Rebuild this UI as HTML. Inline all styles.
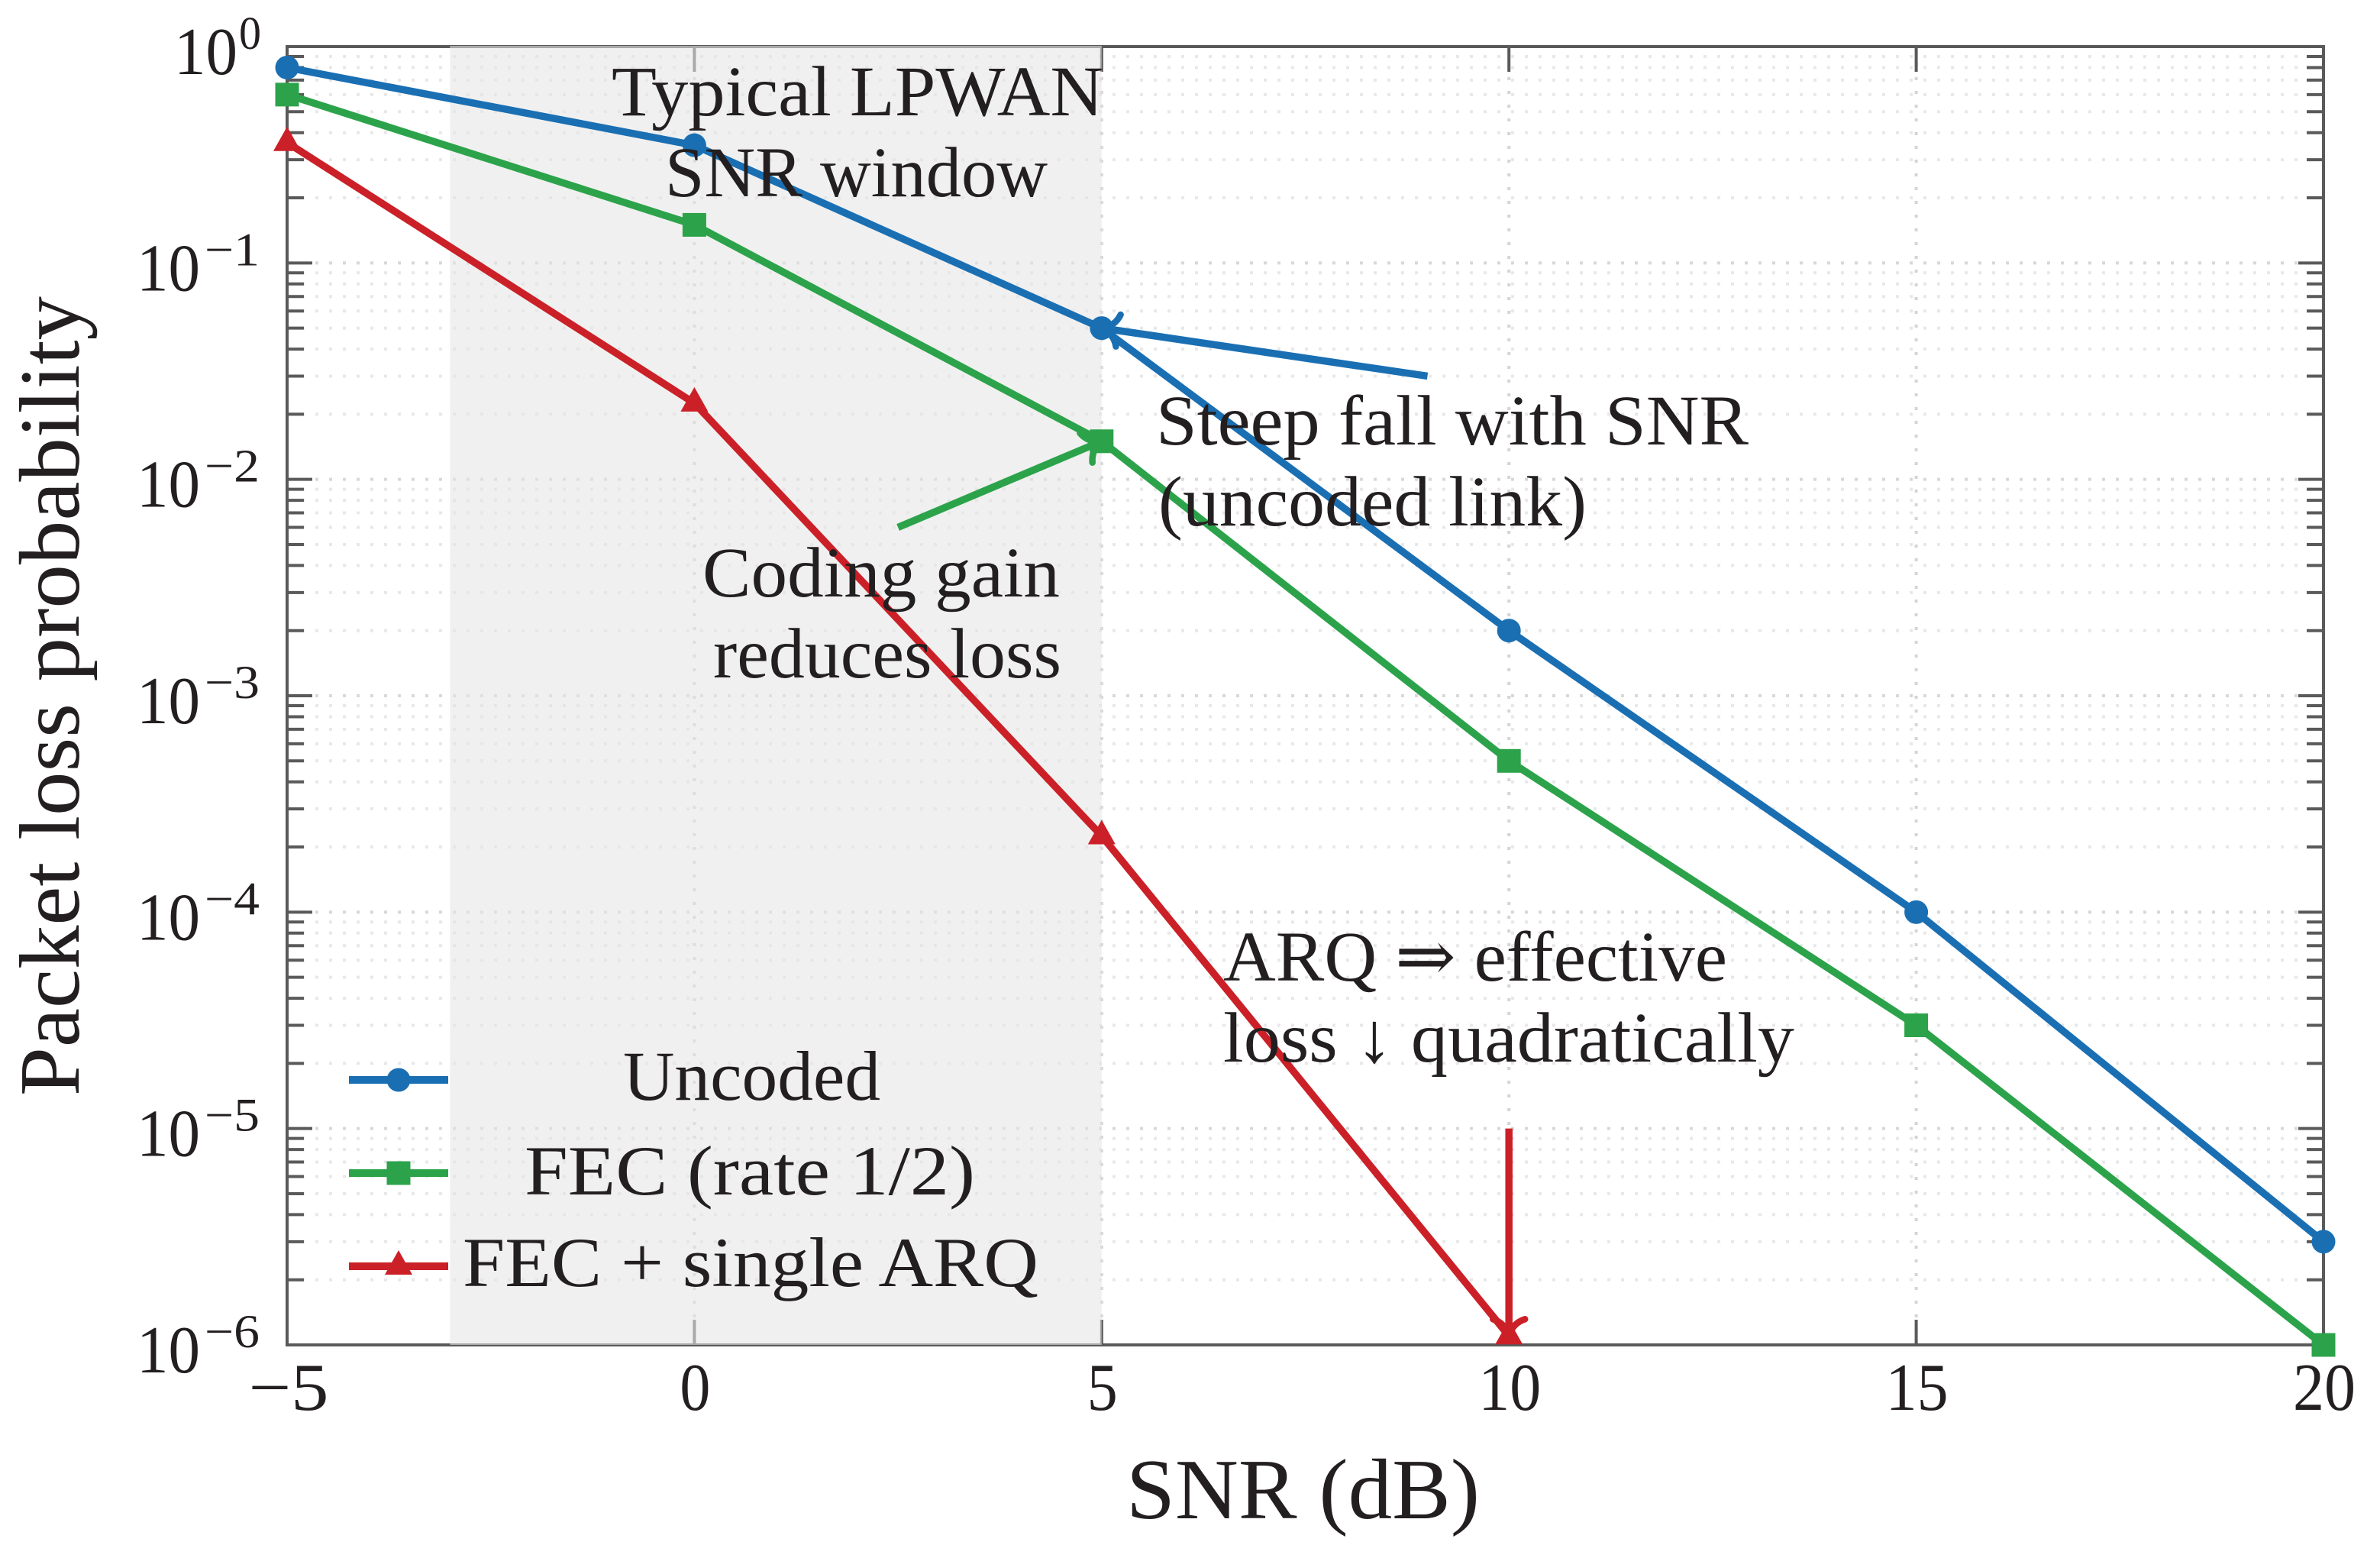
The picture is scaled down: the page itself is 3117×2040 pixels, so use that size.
<!DOCTYPE html>
<html lang="en">
<head>
<meta charset="utf-8">
<title>Packet loss probability vs SNR</title>
<style>
html,body{margin:0;padding:0;background:#fff;}
svg{display:block;}
text{font-family:"Liberation Serif","DejaVu Serif",serif;fill:#231f20;}
.note{font-size:93px;}
.leg{font-size:92px;}
.axt{font-size:112px;}
</style>
</head>
<body>
<svg id="chart" xmlns="http://www.w3.org/2000/svg" width="3117" height="2040" viewBox="0 0 3117 2040">
  <rect x="0" y="0" width="3117" height="2040" fill="#ffffff"/>
  <g id="grid"></g>
  <g id="ticks"></g>
  <rect id="frame" fill="none" stroke="#5a5a5a" stroke-width="4"/>
  <rect id="band" fill="rgb(228,228,228)" fill-opacity="0.57"/>
  <g id="tick-labels"></g>
  <g id="series"></g>
  <g id="arrows"></g>
  <g id="legend-keys"></g>

  <text class="note" x="801" y="151" textLength="644" lengthAdjust="spacingAndGlyphs">Typical LPWAN</text>
  <text class="note" x="871" y="257" textLength="501" lengthAdjust="spacingAndGlyphs">SNR window</text>
  <text class="note" x="1514" y="582" textLength="776" lengthAdjust="spacingAndGlyphs">Steep fall with SNR</text>
  <text class="note" x="1517" y="688" textLength="561" lengthAdjust="spacingAndGlyphs">(uncoded link)</text>
  <text class="note" x="920" y="781" textLength="468" lengthAdjust="spacingAndGlyphs">Coding gain</text>
  <text class="note" x="934" y="887" textLength="456" lengthAdjust="spacingAndGlyphs">reduces loss</text>
  <text class="note" x="1602" y="1284" textLength="660" lengthAdjust="spacingAndGlyphs">ARQ ⇒ effective</text>
  <text class="note" x="1602" y="1390" textLength="748" lengthAdjust="spacingAndGlyphs">loss ↓ quadratically</text>

  <text class="leg" x="816" y="1440" textLength="337" lengthAdjust="spacingAndGlyphs">Uncoded</text>
  <text class="leg" x="687" y="1564" textLength="590" lengthAdjust="spacingAndGlyphs">FEC (rate 1/2)</text>
  <text class="leg" x="606" y="1684" textLength="754" lengthAdjust="spacingAndGlyphs">FEC + single ARQ</text>

  <text class="axt" x="1475" y="1988" textLength="463" lengthAdjust="spacingAndGlyphs">SNR (dB)</text>
  <text class="axt" transform="translate(103,1435) rotate(-90)" x="0" y="0" textLength="1047" lengthAdjust="spacingAndGlyphs">Packet loss probability</text>
</svg>
<script>
// ---- chart data ----
const snrValues = [-5, 0, 5, 10, 15, 20];
const uncodedLoss = [0.8, 0.35, 0.05, 2e-3, 1e-4, 3e-6];
const fecLoss = [0.6, 0.15, 0.015, 5e-4, 3e-5, 1e-6];
const arqSnrValues = [-5, 0, 5, 10];
const arqLoss = [0.36, 0.0225, 2.25e-4, 1.1e-6];
const xTickValues = [-5, 0, 5, 10, 15, 20];
const xTickLabels = ['−5', '0', '5', '10', '15', '20'];
const yTickExponents = [0, -1, -2, -3, -4, -5, -6];
const yTickExponentLabels = ['0', '−1', '−2', '−3', '−4', '−5', '−6'];
const minorMultipliers = [2, 3, 4, 5, 6, 7, 8, 9];
const xDomain = [-5, 20];
const yDomainExponents = [-6, 0];
const snrWindow = [-3, 5];
const blueArrowFrom = [9, 0.03];
const blueArrowTo = [5, 0.05];
const greenArrowFrom = [2.5, 0.006];
const greenArrowTo = [5, 0.015];
const redArrowFrom = [10, 1e-5];
const redArrowTo = [10, 1.1e-6];

// ---- layout ----
const NS = 'http://www.w3.org/2000/svg';
const plotLeft = 376, plotRight = 3043, plotTop = 61, plotBottom = 1761;
const BLUE = '#1a6fb3', GREEN = '#2ca34a', RED = '#cb2027';
const LINE_W = 9.5;

function xScale(v) {
  return plotLeft + (v - xDomain[0]) / (xDomain[1] - xDomain[0]) * (plotRight - plotLeft);
}
function yScale(v) {
  return plotTop + (yDomainExponents[1] - Math.log10(v)) / (yDomainExponents[1] - yDomainExponents[0]) * (plotBottom - plotTop);
}
function mk(tag, parentId, attrs, text) {
  const el = document.createElementNS(NS, tag);
  for (const k in attrs) el.setAttribute(k, attrs[k]);
  if (text !== undefined) el.textContent = text;
  document.getElementById(parentId).appendChild(el);
  return el;
}

// frame and shaded band
const frame = document.getElementById('frame');
frame.setAttribute('x', plotLeft);
frame.setAttribute('y', plotTop);
frame.setAttribute('width', plotRight - plotLeft);
frame.setAttribute('height', plotBottom - plotTop);
const band = document.getElementById('band');
band.setAttribute('x', xScale(snrWindow[0]));
band.setAttribute('y', plotTop - 1);
band.setAttribute('width', xScale(snrWindow[1]) - xScale(snrWindow[0]));
band.setAttribute('height', plotBottom - plotTop + 1);

// horizontal grid + y ticks
yTickExponents.forEach(function (e, i) {
  const y = yScale(Math.pow(10, e));
  const g = mk('line', 'grid', {x1: plotLeft + 1, x2: plotRight, y1: y, y2: y, stroke: '#d8d8d8', 'stroke-width': 4, 'stroke-dasharray': '4 14'});
  
  
  [[plotLeft, plotLeft + 33], [plotRight, plotRight - 33]].forEach(function (p) {
    const t = mk('line', 'ticks', {x1: p[0], x2: p[1], y1: y, y2: y, stroke: '#5a5a5a', 'stroke-width': 4});
    
    
  });
  const base = mk('text', 'tick-labels', {x: e === 0 ? 311 : 262, y: y + 36, 'text-anchor': 'end', 'font-size': 88, textLength: 83, lengthAdjust: 'spacingAndGlyphs'}, '10');
  
  
  const sup = mk('text', 'tick-labels', {x: e === 0 ? 342 : 340, y: y + 3, 'text-anchor': 'end', 'font-size': 61, textLength: e === 0 ? 29 : 72, lengthAdjust: 'spacingAndGlyphs'}, yTickExponentLabels[i]);
  
  
  if (e > yDomainExponents[0]) {
    minorMultipliers.forEach(function (m) {
      const ym = yScale(m * Math.pow(10, e - 1));
      const gm = mk('line', 'grid', {x1: plotLeft + 1, x2: plotRight, y1: ym, y2: ym, stroke: '#e8e8e8', 'stroke-width': 4, 'stroke-dasharray': '4 14'});
      
      
      [[plotLeft, plotLeft + 22], [plotRight, plotRight - 22]].forEach(function (p) {
        const tm = mk('line', 'ticks', {x1: p[0], x2: p[1], y1: ym, y2: ym, stroke: '#5a5a5a', 'stroke-width': 4});
        
        
      });
    });
  }
});

// vertical grid + x ticks
xTickValues.forEach(function (v, i) {
  const x = xScale(v);
  const g = mk('line', 'grid', {x1: x, x2: x, y1: plotBottom, y2: plotTop, stroke: '#d5d5d5', 'stroke-width': 4, 'stroke-dasharray': '4 14'});
  
  
  [[plotBottom, plotBottom - 33], [plotTop, plotTop + 33]].forEach(function (p) {
    const t = mk('line', 'ticks', {x1: x, x2: x, y1: p[0], y2: p[1], stroke: '#5a5a5a', 'stroke-width': 4});
    
    
  });
  const lab = xTickLabels[i];
  const w = lab.length === 1 ? 40 : (lab.charAt(0) === '−' ? 105 : 82);
  const tx = mk('text', 'tick-labels', {x: x + (lab.charAt(0) === '−' ? 2 : 1), y: 1846, 'text-anchor': 'middle', 'font-size': 88, textLength: w, lengthAdjust: 'spacingAndGlyphs'}, lab);
  
  
});

// markers
function circleMarker(parent, x, y, color) {
  return mk('circle', parent, {cx: x, cy: y, r: 15.5, fill: color});
}
function squareMarker(parent, x, y, color) {
  return mk('rect', parent, {x: x - 15.5, y: y - 15.5, width: 31, height: 31, fill: color});
}
function triangleMarker(parent, x, y, color) {
  return mk('polygon', parent, {points: (x - 18) + ',' + (y + 11) + ' ' + x + ',' + (y - 21) + ' ' + (x + 18) + ',' + (y + 11), fill: color});
}

function drawSeries(xs, ys, color, markerFn, name) {
  const pts = xs.map(function (x, i) { return xScale(x) + ',' + yScale(ys[i]); }).join(' ');
  const line = mk('polyline', 'series', {points: pts, fill: 'none', stroke: color, 'stroke-width': LINE_W, 'stroke-linejoin': 'miter'});
  
  
  xs.forEach(function (x, i) {
    const m = markerFn('series', xScale(x), yScale(ys[i]), color);
    
    
  });
}
drawSeries(snrValues, uncodedLoss, BLUE, circleMarker, 'uncoded');
drawSeries(snrValues, fecLoss, GREEN, squareMarker, 'fec');
drawSeries(arqSnrValues, arqLoss, RED, triangleMarker, 'fec-arq');

// annotation arrows
function drawArrow(from, to, color, name) {
  const x1 = xScale(from[0]), y1 = yScale(from[1]);
  const x2 = xScale(to[0]), y2 = yScale(to[1]);
  const len = Math.hypot(x1 - x2, y1 - y2);
  const bx = (x1 - x2) / len, by = (y1 - y2) / len;
  const px = -by, py = bx;
  const shaft = mk('line', 'arrows', {x1: x1, y1: y1, x2: x2, y2: y2, stroke: color, 'stroke-width': LINE_W});
  
  
  const d = [1, -1].map(function (s) {
    const ex = x2 + bx * 22 + s * px * 21, ey = y2 + by * 22 + s * py * 21;
    const cx = x2 + bx * 17 + s * px * 5, cy = y2 + by * 17 + s * py * 5;
    return 'M' + ex + ' ' + ey + ' Q' + cx + ' ' + cy + ' ' + x2 + ' ' + y2;
  }).join(' ');
  const head = mk('path', 'arrows', {d: d, fill: 'none', stroke: color, 'stroke-width': 8.5, 'stroke-linecap': 'round'});
  
  
}
drawArrow(blueArrowFrom, blueArrowTo, BLUE, 'steep-fall-arrow');
drawArrow(greenArrowFrom, greenArrowTo, GREEN, 'coding-gain-arrow');
drawArrow(redArrowFrom, redArrowTo, RED, 'arq-arrow');

// legend keys
function legendKey(y, color, markerFn, name) {
  const l = mk('line', 'legend-keys', {x1: 457, x2: 587, y1: y, y2: y, stroke: color, 'stroke-width': 10});
  
  
  const m = markerFn('legend-keys', 522, y, color);
  
  
}
legendKey(1414, BLUE, circleMarker, 'uncoded');
legendKey(1536, GREEN, squareMarker, 'fec');
legendKey(1658, RED, triangleMarker, 'fec-arq');
</script>
</body>
</html>
